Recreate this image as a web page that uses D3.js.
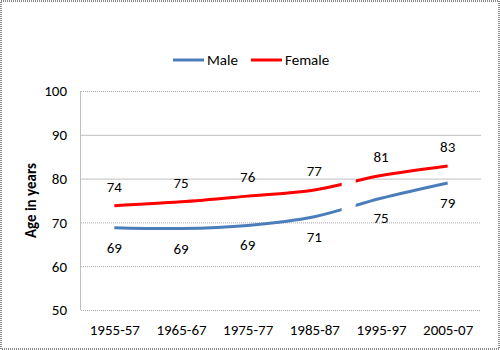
<!DOCTYPE html>
<html><head><meta charset="utf-8">
<script src="https://cdn.jsdelivr.net/npm/d3@7"></script>
<style>body{margin:0;background:#fff}svg{display:block}</style>
</head><body>
<svg id="c" width="500" height="350"></svg>
<script>
const categories = ["1955-57","1965-67","1975-77","1985-87","1995-97","2005-07"];
const male = [68.8, 68.6, 69.3, 71.3, 75.5, 79.0];
const female = [73.8, 74.7, 76.0, 77.4, 80.7, 82.9];
const maleLabels = ["69","69","69","71","75","79"];
const femaleLabels = ["74","75","76","77","81","83"];
const yTicks = [50,60,70,80,90,100];
const solidGrid = [80,90];

const W=500,H=350;
const m={left:81,right:19,top:91,bottom:40};
const svg=d3.select("#c");
const font="Carlito, Calibri, 'Liberation Sans', Arial, sans-serif";

svg.append("rect").attr("x",1).attr("y",1).attr("width",W-2).attr("height",H-2)
  .attr("fill","#fff").attr("stroke","#8c8c8c").attr("stroke-width",2).attr("stroke-dasharray","1,1");

const x=d3.scalePoint().domain(categories).range([m.left,W-m.right]).padding(0.5);
const y=d3.scaleLinear().domain([50,100]).range([H-m.bottom,m.top]);

// gridlines
svg.append("g").selectAll("line").data(yTicks).join("line")
  .attr("x1",m.left).attr("x2",W-m.right)
  .attr("y1",d=>y(d)+0.5).attr("y2",d=>y(d)+0.5)
  .attr("stroke",d=>solidGrid.includes(d)?"#bfbfbf":"#a6a6a6")
  .attr("stroke-width",1)
  .attr("stroke-dasharray",d=>solidGrid.includes(d)?null:"1,1");

// y axis line
svg.append("line").attr("x1",m.left-0.5).attr("x2",m.left-0.5)
  .attr("y1",y(100)).attr("y2",y(50)).attr("stroke","#bfbfbf");

// y axis labels
const yAxis=d3.axisLeft(y).tickValues(yTicks).tickSize(0).tickPadding(14);
const ya=svg.append("g").attr("transform",`translate(${m.left},0)`).call(yAxis);
ya.select(".domain").remove();
ya.selectAll("text").attr("font-family",font).attr("font-size",15).attr("fill","#000");

// x axis labels
const xAxis=d3.axisBottom(x).tickSize(0).tickPadding(14);
const xa=svg.append("g").attr("transform",`translate(0,${y(50)})`).call(xAxis);
xa.select(".domain").remove();
xa.selectAll("text").attr("font-family",font).attr("font-size",15).attr("fill","#000");

// y title
svg.append("text").attr("transform",`translate(36,${(y(100)+y(50))/2}) rotate(-90)`)
  .attr("text-anchor","middle").attr("font-family",font).attr("font-size",15)
  .attr("font-weight","bold").text("Age in years");

// clip with gap between 1985-87 and 1995-97
const gx=(x(categories[3])+x(categories[4]))/2;
const cp=svg.append("defs").append("clipPath").attr("id","gap");
cp.append("rect").attr("x",0).attr("y",0).attr("width",gx-6).attr("height",H);
cp.append("rect").attr("x",gx+8).attr("y",0).attr("width",W).attr("height",H);

const line=d3.line().x((d,i)=>x(categories[i])).y(d=>y(d)).curve(d3.curveCatmullRom.alpha(0.5));
const g=svg.append("g").attr("clip-path","url(#gap)");
g.append("path").datum(male).attr("d",line).attr("fill","none").attr("stroke","#4a7ebb").attr("stroke-width",3);
g.append("path").datum(female).attr("d",line).attr("fill","none").attr("stroke","#ff0000").attr("stroke-width",3);

// data labels
svg.append("g").selectAll("text").data(female).join("text")
  .attr("x",(d,i)=>x(categories[i])).attr("y",d=>y(d)-14)
  .attr("text-anchor","middle").attr("font-family",font).attr("font-size",15).attr("fill","#000")
  .text((d,i)=>femaleLabels[i]);
svg.append("g").selectAll("text").data(male).join("text")
  .attr("x",(d,i)=>x(categories[i])).attr("y",d=>y(d)+25)
  .attr("text-anchor","middle").attr("font-family",font).attr("font-size",15).attr("fill","#000")
  .text((d,i)=>maleLabels[i]);

// legend
const leg=[{n:"Male",c:"#4a7ebb",x:173},{n:"Female",c:"#ff0000",x:251}];
const lg=svg.append("g").selectAll("g").data(leg).join("g").attr("transform",d=>`translate(${d.x},60)`);
lg.append("line").attr("x1",0).attr("x2",31).attr("y1",0).attr("y2",0).attr("stroke",d=>d.c).attr("stroke-width",3);
lg.append("text").attr("x",34).attr("y",5).attr("font-family",font).attr("font-size",15).attr("fill","#000").text(d=>d.n);
</script>
</body></html>
